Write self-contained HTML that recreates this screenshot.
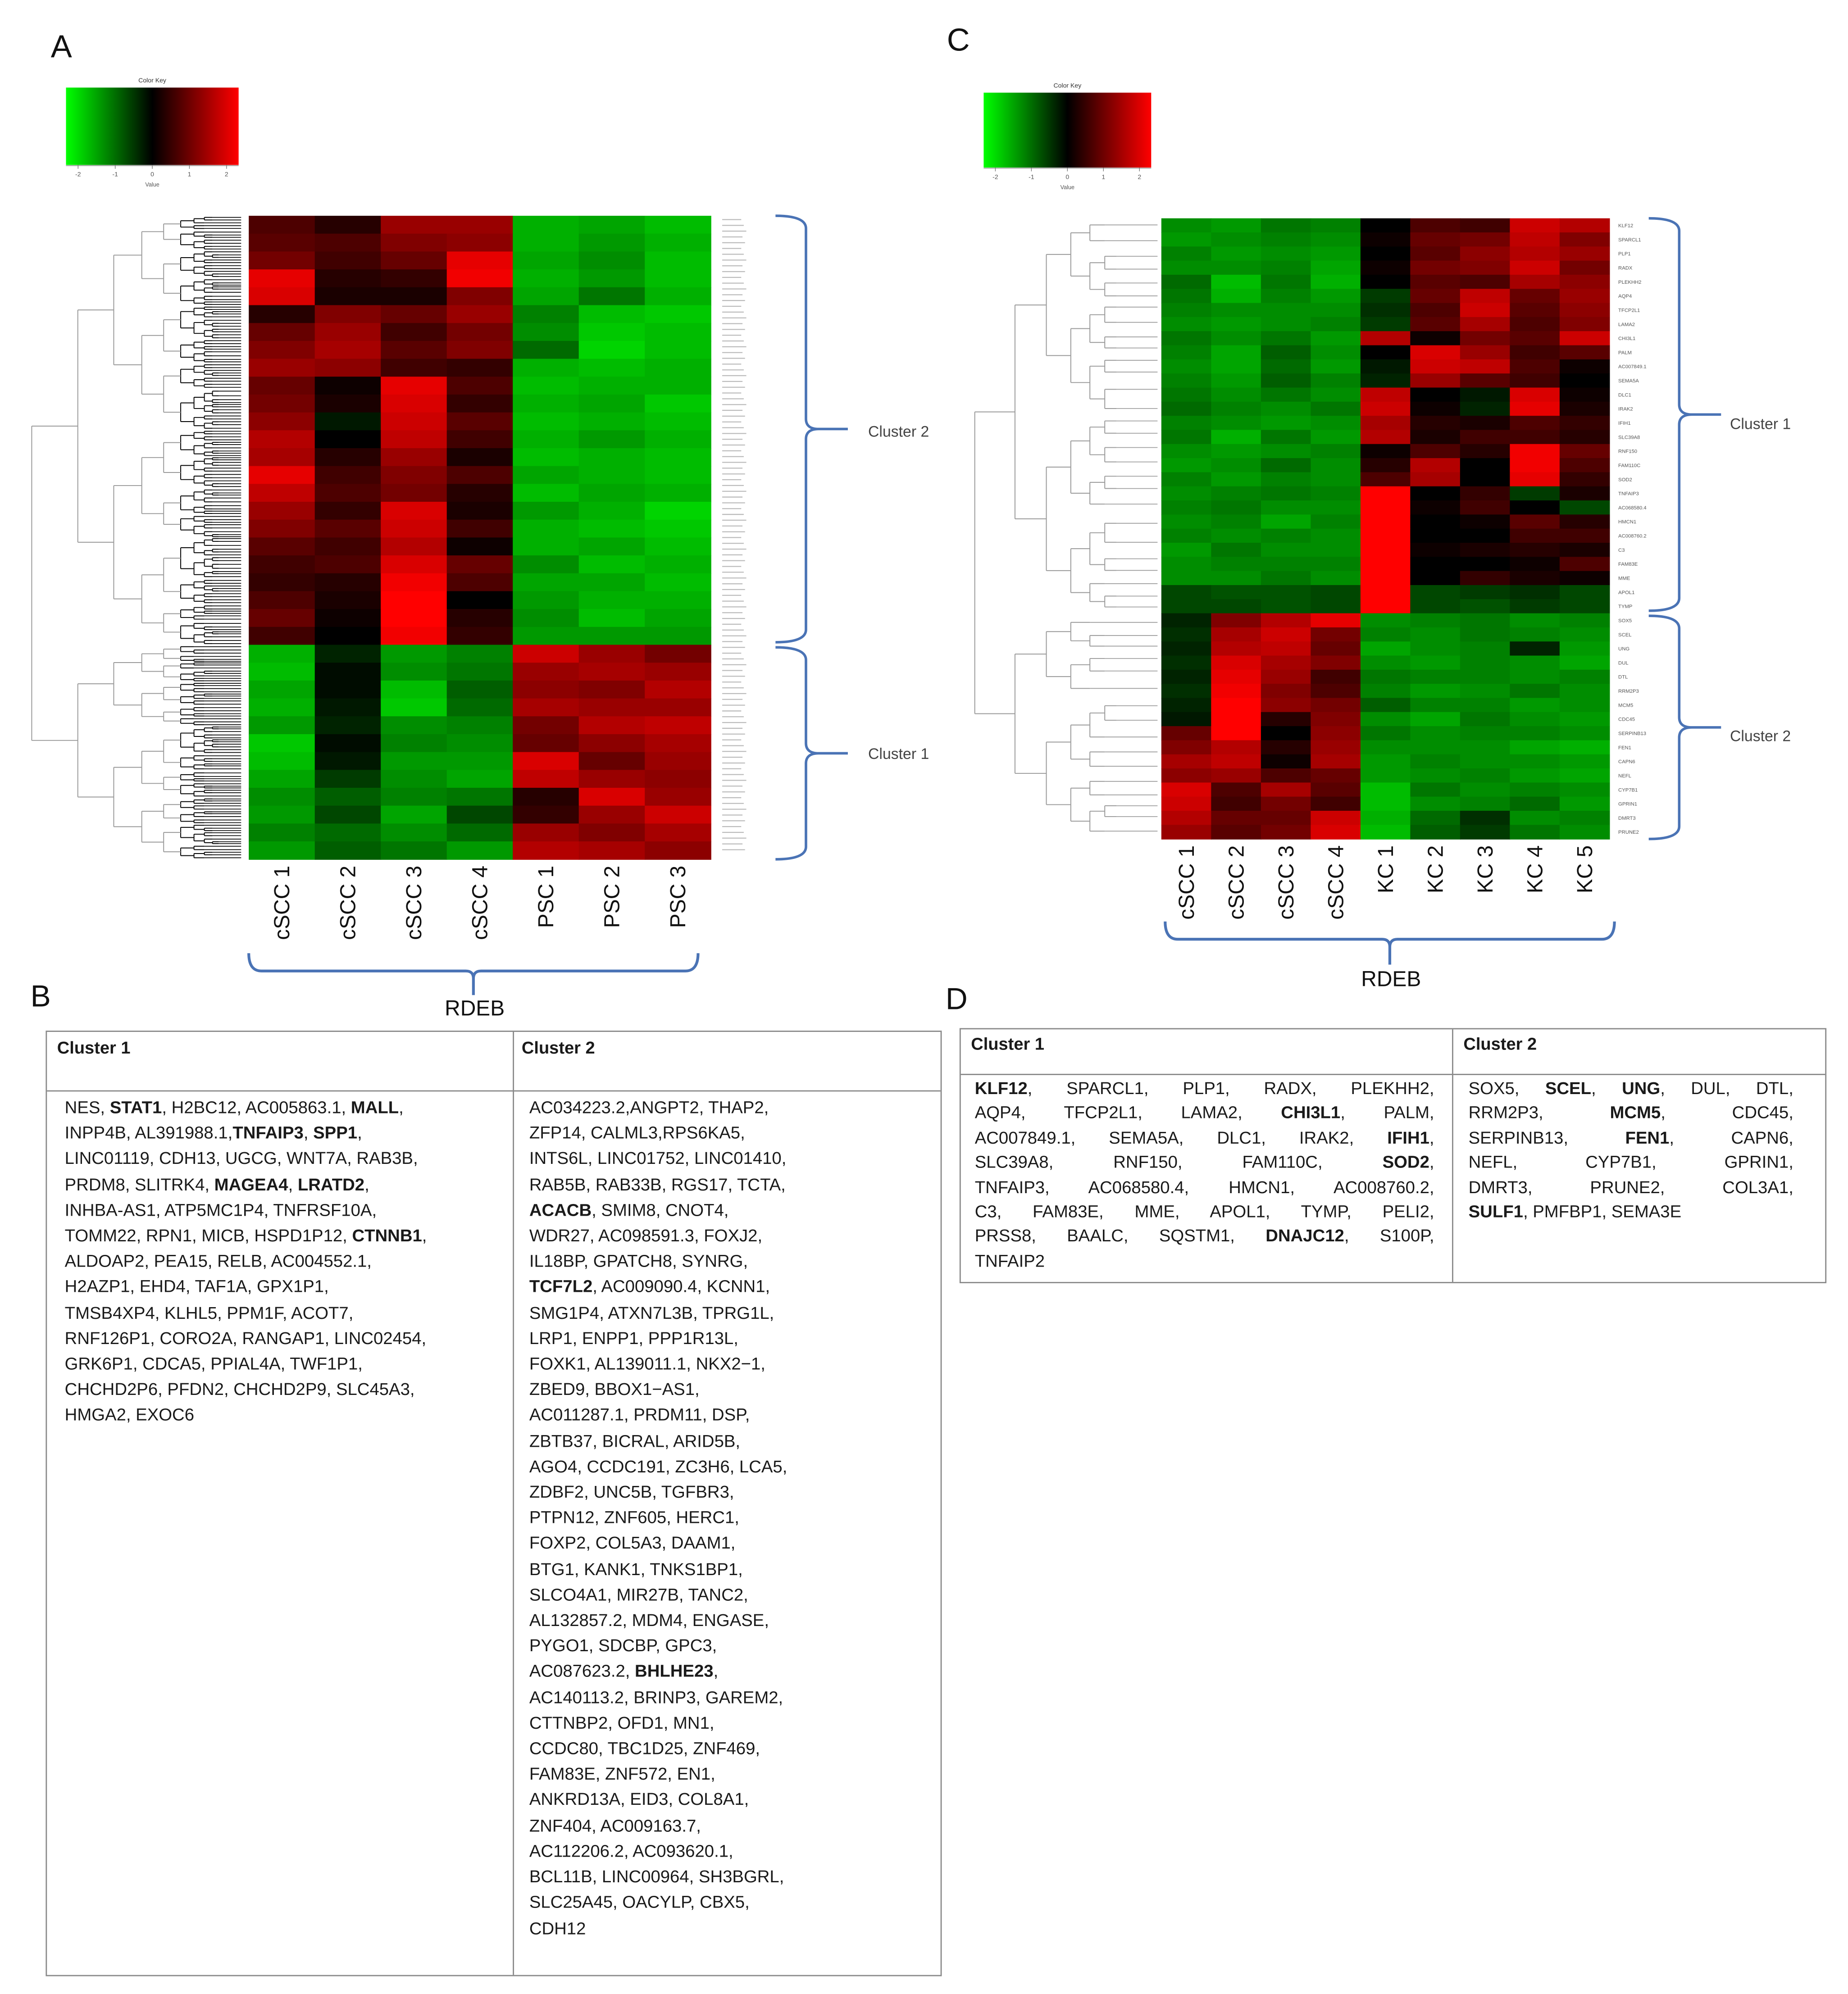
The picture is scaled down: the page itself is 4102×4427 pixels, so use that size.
<!DOCTYPE html>
<html><head><meta charset="utf-8"><style>
html,body{margin:0;padding:0;background:#fff;}
#page{position:absolute;left:0;top:0;width:1456px;height:1571px;transform:scale(2.81731,2.81795);transform-origin:0 0;font-family:"Liberation Sans",sans-serif;color:#1a1a1a;overflow:hidden}
svg{position:absolute;left:0;top:0}
.tbl{position:absolute;border:1px solid #8a8a8a;box-sizing:border-box}
.hdr{position:absolute;font-weight:bold;font-size:13.5px}
.cell{position:absolute;font-size:13.6px;line-height:20.2px;white-space:nowrap}
.vl{position:absolute;top:0;bottom:0;width:0;border-left:1px solid #8a8a8a}
.hl{position:absolute;left:0;right:0;height:0;border-top:1px solid #8a8a8a}
.jl{white-space:normal;text-align:justify;text-align-last:justify;height:19.4px;line-height:19.4px}
.ll{white-space:nowrap;height:19.4px;line-height:19.4px}
</style></head><body>
<div id="page">
<svg id="chart" width="1456" height="1571" viewBox="0 0 1456 1571"></svg>

<div class="tbl" style="left:36px;top:812px;width:706px;height:745px">
  <div class="hl" style="top:46px"></div>
  <div class="vl" style="left:367px"></div>
  <div class="hdr" style="left:8px;top:5px">Cluster 1</div>
  <div class="hdr" style="left:374px;top:5px">Cluster 2</div>
  <div class="cell" style="left:14px;top:50px">NES, <b>STAT1</b>, H2BC12, AC005863.1, <b>MALL</b>,<br>INPP4B, AL391988.1,<b>TNFAIP3</b>, <b>SPP1</b>,<br>LINC01119, CDH13, UGCG, WNT7A, RAB3B,<br>PRDM8, SLITRK4, <b>MAGEA4</b>, <b>LRATD2</b>,<br>INHBA-AS1, ATP5MC1P4, TNFRSF10A,<br>TOMM22, RPN1, MICB, HSPD1P12, <b>CTNNB1</b>,<br>ALDOAP2, PEA15, RELB, AC004552.1,<br>H2AZP1, EHD4, TAF1A, GPX1P1,<br>TMSB4XP4, KLHL5, PPM1F, ACOT7,<br>RNF126P1, CORO2A, RANGAP1, LINC02454,<br>GRK6P1, CDCA5, PPIAL4A, TWF1P1,<br>CHCHD2P6, PFDN2, CHCHD2P9, SLC45A3,<br>HMGA2, EXOC6</div>
  <div class="cell" style="left:380px;top:50px">AC034223.2,ANGPT2, THAP2,<br>ZFP14, CALML3,RPS6KA5,<br>INTS6L, LINC01752, LINC01410,<br>RAB5B, RAB33B, RGS17, TCTA,<br><b>ACACB</b>, SMIM8, CNOT4,<br>WDR27, AC098591.3, FOXJ2,<br>IL18BP, GPATCH8, SYNRG,<br><b>TCF7L2</b>, AC009090.4, KCNN1,<br>SMG1P4, ATXN7L3B, TPRG1L,<br>LRP1, ENPP1, PPP1R13L,<br>FOXK1, AL139011.1, NKX2−1,<br>ZBED9, BBOX1−AS1,<br>AC011287.1, PRDM11, DSP,<br>ZBTB37, BICRAL, ARID5B,<br>AGO4, CCDC191, ZC3H6, LCA5,<br>ZDBF2, UNC5B, TGFBR3,<br>PTPN12, ZNF605, HERC1,<br>FOXP2, COL5A3, DAAM1,<br>BTG1, KANK1, TNKS1BP1,<br>SLCO4A1, MIR27B, TANC2,<br>AL132857.2, MDM4, ENGASE,<br>PYGO1, SDCBP, GPC3,<br>AC087623.2, <b>BHLHE23</b>,<br>AC140113.2, BRINP3, GAREM2,<br>CTTNBP2, OFD1, MN1,<br>CCDC80, TBC1D25, ZNF469,<br>FAM83E, ZNF572, EN1,<br>ANKRD13A, EID3, COL8A1,<br>ZNF404, AC009163.7,<br>AC112206.2, AC093620.1,<br>BCL11B, LINC00964, SH3BGRL,<br>SLC25A45, OACYLP, CBX5,<br>CDH12</div>
</div>

<div class="tbl" style="left:756px;top:810px;width:683px;height:201px">
  <div class="hl" style="top:35px"></div>
  <div class="vl" style="left:387px"></div>
  <div class="hdr" style="left:8px;top:4px">Cluster 1</div>
  <div class="hdr" style="left:396px;top:4px">Cluster 2</div>
  <div class="cell" style="left:11px;top:37px;width:362px">
    <div class="jl"><b>KLF12</b>, SPARCL1, PLP1, RADX, PLEKHH2,</div>
    <div class="jl">AQP4, TFCP2L1, LAMA2, <b>CHI3L1</b>, PALM,</div>
    <div class="jl">AC007849.1, SEMA5A, DLC1, IRAK2, <b>IFIH1</b>,</div>
    <div class="jl">SLC39A8, RNF150, FAM110C, <b>SOD2</b>,</div>
    <div class="jl">TNFAIP3, AC068580.4, HMCN1, AC008760.2,</div>
    <div class="jl">C3, FAM83E, MME, APOL1, TYMP, PELI2,</div>
    <div class="jl">PRSS8, BAALC, SQSTM1, <b>DNAJC12</b>, S100P,</div>
    <div class="ll">TNFAIP2</div>
  </div>
  <div class="cell" style="left:400px;top:37px;width:256px">
    <div class="jl">SOX5, <b>SCEL</b>, <b>UNG</b>, DUL, DTL,</div>
    <div class="jl">RRM2P3, <b>MCM5</b>, CDC45,</div>
    <div class="jl">SERPINB13, <b>FEN1</b>, CAPN6,</div>
    <div class="jl">NEFL, CYP7B1, GPRIN1,</div>
    <div class="jl">DMRT3, PRUNE2, COL3A1,</div>
    <div class="ll"><b>SULF1</b>, PMFBP1, SEMA3E</div>
  </div>
</div>
</div>

<script>
// ---- Panel A data ----
const colsA = ["cSCC 1","cSCC 2","cSCC 3","cSCC 4","PSC 1","PSC 2","PSC 3"];
const clusterSplitA = 24; // rows before cluster 1
const valuesA = [
[0.6,0.3,1.2,1.2,-1.5,-1.4,-1.6],
[0.7,0.6,1.0,1.1,-1.5,-1.3,-1.5],
[0.9,0.5,0.8,1.8,-1.4,-1.2,-1.6],
[1.8,0.3,0.4,1.9,-1.5,-1.3,-1.6],
[1.7,0.2,0.2,1.0,-1.4,-1.0,-1.5],
[0.3,1.0,0.8,1.2,-1.1,-1.6,-1.7],
[0.8,1.2,0.5,0.9,-1.2,-1.7,-1.6],
[1.0,1.3,0.7,1.0,-0.9,-1.8,-1.6],
[1.2,1.1,0.5,0.4,-1.5,-1.6,-1.5],
[0.8,0.1,1.8,0.6,-1.6,-1.5,-1.5],
[0.9,0.2,1.7,0.4,-1.5,-1.4,-1.7],
[1.1,-0.2,1.6,0.7,-1.6,-1.5,-1.6],
[1.4,0.0,1.5,0.5,-1.5,-1.3,-1.5],
[1.3,0.3,1.2,0.2,-1.6,-1.5,-1.6],
[1.8,0.5,1.0,0.6,-1.4,-1.5,-1.6],
[1.5,0.6,0.9,0.3,-1.6,-1.4,-1.5],
[1.2,0.4,1.7,0.2,-1.3,-1.5,-1.8],
[1.0,0.7,1.6,0.5,-1.5,-1.6,-1.7],
[0.7,0.5,1.4,0.1,-1.5,-1.4,-1.6],
[0.5,0.6,1.7,0.8,-1.2,-1.6,-1.5],
[0.4,0.3,1.9,0.6,-1.4,-1.4,-1.6],
[0.6,0.2,2.0,0.0,-1.3,-1.5,-1.5],
[0.8,0.1,2.0,0.3,-1.2,-1.6,-1.4],
[0.5,0.0,1.9,0.4,-1.3,-1.3,-1.3],
[-1.5,-0.3,-1.3,-1.1,1.6,1.2,0.9],
[-1.6,-0.1,-1.2,-1.0,1.2,1.3,1.2],
[-1.4,-0.1,-1.6,-0.8,1.1,1.0,1.4],
[-1.5,-0.2,-1.7,-0.9,1.3,1.2,1.2],
[-1.3,-0.3,-1.2,-1.1,0.9,1.4,1.5],
[-1.7,-0.1,-1.1,-1.2,0.8,1.1,1.3],
[-1.6,-0.2,-1.3,-1.3,1.7,0.8,1.2],
[-1.4,-0.5,-1.2,-1.4,1.5,1.2,1.1],
[-1.2,-0.8,-1.1,-1.0,0.3,1.7,1.2],
[-1.3,-0.6,-1.4,-0.6,0.4,1.2,1.6],
[-1.1,-0.9,-1.2,-0.9,1.2,1.0,1.3],
[-1.3,-0.8,-1.0,-1.3,1.4,1.3,1.1]];

// ---- Panel C data ----
const colsC = ["cSCC 1","cSCC 2","cSCC 3","cSCC 4","KC 1","KC 2","KC 3","KC 4","KC 5"];
const clusterSplitC = 28;
const valuesC = [
[-1.2,-1.3,-1.0,-1.1,0.0,0.6,0.5,1.6,1.4],
[-1.3,-1.2,-1.1,-1.2,0.1,0.8,0.9,1.5,1.0],
[-1.1,-1.3,-1.2,-1.3,0.0,0.7,1.1,1.4,1.2],
[-1.2,-1.2,-1.1,-1.4,0.1,0.9,1.0,1.6,0.9],
[-0.9,-1.6,-1.0,-1.5,0.0,0.7,0.6,1.3,1.1],
[-1.0,-1.5,-1.1,-1.3,-0.5,0.8,1.5,0.8,1.2],
[-1.1,-1.2,-1.2,-1.2,-0.4,0.6,1.6,0.7,1.1],
[-1.2,-1.3,-1.2,-1.1,-0.5,0.7,1.3,0.6,1.0],
[-1.0,-1.2,-1.0,-1.3,1.4,0.1,0.9,0.7,1.6],
[-1.1,-1.4,-0.8,-1.2,0.0,1.7,1.2,0.5,0.7],
[-1.2,-1.4,-0.9,-1.3,-0.2,1.6,1.5,0.6,0.1],
[-1.1,-1.3,-0.8,-1.1,-0.3,1.2,0.7,0.5,0.0],
[-1.0,-1.2,-1.0,-1.2,1.5,0.0,-0.2,1.7,0.1],
[-0.9,-1.1,-1.2,-1.0,1.6,0.1,-0.3,1.8,0.2],
[-1.1,-1.2,-1.3,-1.2,1.3,0.3,0.2,0.6,0.4],
[-1.0,-1.5,-1.0,-1.3,1.4,0.2,0.5,0.5,0.3],
[-1.2,-1.3,-1.2,-1.1,0.1,0.6,0.3,1.9,0.8],
[-1.3,-1.2,-0.9,-1.2,0.3,1.4,0.0,1.9,0.6],
[-1.1,-1.3,-1.1,-1.2,0.6,1.3,0.0,1.8,0.4],
[-1.2,-1.1,-1.0,-1.1,2.0,0.0,0.4,-0.5,0.2],
[-1.1,-1.0,-1.2,-1.2,2.0,0.1,0.5,0.0,-0.6],
[-1.2,-1.1,-1.4,-1.1,2.0,0.0,0.1,0.7,0.3],
[-1.1,-1.2,-1.1,-1.2,2.0,0.0,0.0,0.5,0.5],
[-1.3,-1.0,-1.2,-1.2,2.0,0.1,0.2,0.3,0.2],
[-1.2,-1.1,-1.1,-1.1,2.0,0.0,0.0,0.1,0.6],
[-1.2,-1.2,-1.0,-1.2,2.0,0.0,0.4,0.2,0.1],
[-0.6,-0.7,-0.7,-0.6,2.0,-0.6,-0.5,-0.4,-0.6],
[-0.6,-0.6,-0.7,-0.6,2.0,-0.6,-0.7,-0.5,-0.6],
[-0.3,1.0,1.4,1.8,-1.2,-1.1,-1.0,-1.2,-1.1],
[-0.4,1.3,1.6,0.9,-1.1,-1.2,-1.0,-1.1,-1.2],
[-0.3,1.4,1.5,0.8,-1.4,-1.2,-1.1,-0.3,-1.3],
[-0.4,1.7,1.3,1.0,-1.2,-1.3,-1.1,-1.2,-1.4],
[-0.3,1.8,1.2,0.5,-1.0,-1.1,-1.1,-1.2,-1.1],
[-0.4,1.9,1.0,0.6,-1.1,-1.3,-1.2,-1.0,-1.2],
[-0.3,2.0,1.1,0.9,-0.8,-1.1,-1.1,-1.3,-1.2],
[-0.2,2.0,0.3,1.0,-1.2,-1.4,-1.0,-1.2,-1.3],
[0.8,2.0,0.0,1.1,-1.0,-1.2,-1.1,-1.1,-1.2],
[1.0,1.4,0.3,1.2,-1.2,-1.2,-1.2,-1.4,-1.5],
[1.3,1.5,0.1,1.3,-1.3,-1.1,-1.2,-1.2,-1.3],
[1.1,1.2,0.6,0.8,-1.3,-1.2,-1.1,-1.3,-1.4],
[1.7,0.6,1.3,0.7,-1.6,-1.0,-1.2,-1.1,-1.2],
[1.6,0.5,0.9,0.5,-1.6,-1.2,-1.1,-0.9,-1.3],
[1.4,0.8,0.8,1.6,-1.5,-0.9,-0.4,-1.2,-1.1],
[1.2,0.7,0.9,1.7,-1.6,-0.8,-0.5,-1.0,-1.2]];
const rowLabelsC = ["KLF12","SPARCL1","PLP1","RADX","PLEKHH2","AQP4","TFCP2L1","LAMA2","CHI3L1","PALM","AC007849.1","SEMA5A","DLC1","IRAK2","IFIH1","SLC39A8","RNF150","FAM110C","SOD2","TNFAIP3","AC068580.4","HMCN1","AC008760.2","C3","FAM83E","MME","APOL1","TYMP","SOX5","SCEL","UNG","DUL","DTL","RRM2P3","MCM5","CDC45","SERPINB13","FEN1","CAPN6","NEFL","CYP7B1","GPRIN1","DMRT3","PRUNE2"];
const keyTicks = ["-2","-1","0","1","2"];

const NS = "http://www.w3.org/2000/svg";
const svg = document.getElementById('chart');
function mk(tag, attrs, parent, txt){
  const e = document.createElementNS(NS, tag);
  for (const k in attrs) e.setAttribute(k, attrs[k]);
  if (txt !== undefined) e.textContent = txt;
  (parent || svg).appendChild(e);
  return e;
}
function colorOf(v){
  const t = Math.max(-1, Math.min(1, v / 2));
  if (t >= 0) return `rgb(${Math.round(255*t)},0,0)`;
  return `rgb(0,${Math.round(-235*t)},0)`;
}

const defs = mk('defs', {});
const lg = mk('linearGradient', {id:'keygrad', x1:'0', x2:'1', y1:'0', y2:'0'}, defs);
mk('stop', {offset:'0', 'stop-color':'#00ff00'}, lg);
mk('stop', {offset:'0.5', 'stop-color':'#000000'}, lg);
mk('stop', {offset:'1', 'stop-color':'#ff0000'}, lg);

function colorKey(x, y, w, h, name){
  const g = mk('g', {});
  
  
  const t = mk('text', {x: x + w/2, y: y - 4, 'font-size': 5, 'text-anchor':'middle', fill:'#333'}, g, 'Color Key');
  
  
  mk('rect', {x, y, width:w, height:h, fill:'url(#keygrad)'}, g);
  mk('line', {x1:x, y1:y+h+0.5, x2:x+w, y2:y+h+0.5, stroke:'#888', 'stroke-width':0.5}, g);
  keyTicks.forEach((lab, i) => {
    const tx = x + w*(0.07 + i*0.215);
    mk('line', {x1:tx, y1:y+h, x2:tx, y2:y+h+3, stroke:'#777', 'stroke-width':0.5}, g);
    const tt = mk('text', {x:tx, y:y+h+9, 'font-size':5, 'text-anchor':'middle', fill:'#555'}, g, lab);
    
    
  });
  const vt = mk('text', {x:x + w/2, y:y+h+17, 'font-size':4.5, 'text-anchor':'middle', fill:'#555'}, g, 'Value');
  
  
}

function heatmap(values, cols, x0, y0, w, h, name){
  const g = mk('g', {});
  
  
  const nr = values.length, nc = cols.length;
  const cw = w / nc, rh = h / nr;
  values.forEach((row, r) => row.forEach((v, c) => {
    const cell = mk('rect', {x: x0 + c*cw, y: y0 + r*rh, width: cw + 0.4, height: rh + 0.4, fill: colorOf(v)}, g);
    
    
  }));
  return {cw, rh};
}

function colLabels(cols, x0, w, yTop, size, name){
  const cw = w / cols.length;
  cols.forEach((c, i) => {
    const cx = x0 + cw*(i + 0.5) + size*0.35;
    const t = mk('text', {x: cx, y: yTop, 'font-size': size, 'text-anchor':'end', fill:'#111', transform:`rotate(-90 ${cx} ${yTop})`}, svg, c);
    
    
  });
}

function dendro(y0, y1, nLeaves, xRoot, xLeaf, depth, maxDepth, g, darkFrom, seed){
  if (nLeaves <= 1 || depth >= maxDepth){
    const ym = (y0 + y1) / 2;
    const col = depth >= darkFrom ? '#000' : '#999';
    mk('line', {x1: nodeX(depth, xRoot, xLeaf, maxDepth), y1: ym, x2: xLeaf, y2: ym, stroke: col, 'stroke-width': 0.6}, g);
    return ym;
  }
  const frac = 0.5 + (((seed * 37 + depth * 11) % 7) - 3) * 0.04;
  const ym = y0 + (y1 - y0) * frac;
  const nL = Math.max(1, Math.round(nLeaves * frac));
  const a = dendro(y0, ym, nL, xRoot, xLeaf, depth + 1, maxDepth, g, darkFrom, seed*2+1);
  const b = dendro(ym, y1, nLeaves - nL, xRoot, xLeaf, depth + 1, maxDepth, g, darkFrom, seed*2+2);
  const x = nodeX(depth, xRoot, xLeaf, maxDepth);
  const xc = nodeX(depth + 1, xRoot, xLeaf, maxDepth);
  const col = depth >= darkFrom ? '#000' : '#999';
  mk('line', {x1: x, y1: a, x2: x, y2: b, stroke: col, 'stroke-width': 0.7}, g);
  mk('line', {x1: x, y1: a, x2: xc, y2: a, stroke: col, 'stroke-width': 0.7}, g);
  mk('line', {x1: x, y1: b, x2: xc, y2: b, stroke: col, 'stroke-width': 0.7}, g);
  return (a + b) / 2;
}
function nodeX(depth, xRoot, xLeaf, maxDepth){
  const f = Math.pow(0.78, depth);
  return xLeaf - (xLeaf - xRoot) * f;
}
function dendrogram(y0, ySplit, y1, xRoot, xLeaf, nTop, nBot, maxDepth, darkFrom, name){
  const g = mk('g', {});
  
  
  const a = dendro(y0, ySplit, nTop, xRoot, xLeaf, 1, maxDepth, g, darkFrom, 3);
  const b = dendro(ySplit, y1, nBot, xRoot, xLeaf, 1, maxDepth, g, darkFrom, 5);
  const xc = nodeX(1, xRoot, xLeaf, maxDepth);
  mk('line', {x1: xRoot, y1: a, x2: xRoot, y2: b, stroke: '#999', 'stroke-width': 0.7}, g);
  mk('line', {x1: xRoot, y1: a, x2: xc, y2: a, stroke: '#999', 'stroke-width': 0.7}, g);
  mk('line', {x1: xRoot, y1: b, x2: xc, y2: b, stroke: '#999', 'stroke-width': 0.7}, g);
}

function vBrace(x, yTop, yBot, xTip, name){
  const ym = (yTop + yBot)/2;
  const d = `M${x-24},${yTop} Q${x},${yTop} ${x},${yTop+10} L${x},${ym-8} Q${x},${ym} ${x+10},${ym} L${xTip},${ym} M${x+10},${ym} Q${x},${ym} ${x},${ym+8} L${x},${yBot-10} Q${x},${yBot} ${x-24},${yBot}`;
  const p = mk('path', {d, fill:'none', stroke:'#4a73b5', 'stroke-width':2});
  
  
}
function hBrace(x0, x1, y, yTip, name){
  const xm = (x0 + x1)/2;
  const d = `M${x0},${y-14} Q${x0},${y} ${x0+10},${y} L${xm-6},${y} Q${xm},${y} ${xm},${y+6} L${xm},${yTip} M${xm},${y+6} Q${xm},${y} ${xm+6},${y} L${x1-10},${y} Q${x1},${y} ${x1},${y-14}`;
  const p = mk('path', {d, fill:'none', stroke:'#4a73b5', 'stroke-width':2.2});
  
  
}
function label(x, y, txt, size, name, extra){
  const t = mk('text', Object.assign({x, y, 'font-size': size, fill:'#111'}, extra || {}), svg, txt);
  
  
  return t;
}

// ===== Panel A =====
label(40, 45, 'A', 25, 'panel-a-label');
colorKey(52, 69, 136, 61, 'panel-a-color-key');
const hA = {x:196, y:170, w:364, h:507};
dendrogram(hA.y, hA.y + hA.h*clusterSplitA/valuesA.length, hA.y + hA.h, 25, 190, 150, 80, 9, 5, 'panel-a-row-dendrogram');
heatmap(valuesA, colsA, hA.x, hA.y, hA.w, hA.h, 'panel-a-heatmap');
(function(){
  const g = mk('g', {});
  
  
  for (let i = 0; i < 110; i++){
    const yy = hA.y + 3 + i * (hA.h - 6) / 110;
    mk('line', {x1: 569, y1: yy, x2: 584 + ((i*7)%5), y2: yy, stroke:'#bbb', 'stroke-width':0.8}, g);
  }
})();
colLabels(colsA, hA.x, hA.w, 682, 17, 'panel-a-column-label');
vBrace(635, 170, hA.y + hA.h*clusterSplitA/valuesA.length - 2, 668, 'panel-a-cluster-2-brace');
vBrace(635, hA.y + hA.h*clusterSplitA/valuesA.length + 2, 677, 668, 'panel-a-cluster-1-brace');
label(684, 344, 'Cluster 2', 12, 'panel-a-cluster-2-label', {fill:'#444'});
label(684, 598, 'Cluster 1', 12, 'panel-a-cluster-1-label', {fill:'#444'});
hBrace(196, 550, 765, 784, 'panel-a-rdeb-brace');
label(374, 800, 'RDEB', 17, 'panel-a-rdeb-label', {'text-anchor':'middle'});
label(24, 793, 'B', 24, 'panel-b-label');

// ===== Panel C =====
label(746, 40, 'C', 25, 'panel-c-label');
colorKey(775, 73, 132, 59, 'panel-c-color-key');
const hC = {x:915, y:172, w:353, h:489};
const splitYC = hC.y + hC.h*clusterSplitC/valuesC.length;
dendrogram(hC.y, splitYC, hC.y + hC.h, 768, 912, 28, 16, 6, 99, 'panel-c-row-dendrogram');
heatmap(valuesC, colsC, hC.x, hC.y, hC.w, hC.h, 'panel-c-heatmap');
(function(){
  const g = mk('g', {});
  
  
  const rh = hC.h / rowLabelsC.length;
  rowLabelsC.forEach((lab, i) => {
    mk('text', {x: 1275, y: hC.y + rh*(i+0.5) + 1.5, 'font-size': 4, fill:'#555'}, g, lab);
  });
})();
colLabels(colsC, hC.x, hC.w, 666, 17, 'panel-c-column-label');
vBrace(1323, 172, splitYC - 2, 1356, 'panel-c-cluster-1-brace');
vBrace(1323, splitYC + 2, 661, 1356, 'panel-c-cluster-2-brace');
label(1363, 338, 'Cluster 1', 12, 'panel-c-cluster-1-label', {fill:'#444'});
label(1363, 584, 'Cluster 2', 12, 'panel-c-cluster-2-label', {fill:'#444'});
hBrace(918, 1272, 740, 760, 'panel-c-rdeb-brace');
label(1096, 777, 'RDEB', 17, 'panel-c-rdeb-label', {'text-anchor':'middle'});
label(745, 795, 'D', 24, 'panel-d-label');
</script>
</body></html>
